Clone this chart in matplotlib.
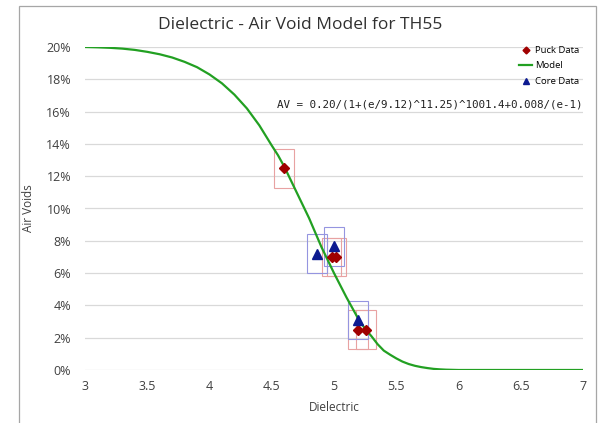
import matplotlib
matplotlib.use('Agg')
import matplotlib.pyplot as plt
from matplotlib.patches import Rectangle
from matplotlib.ticker import FuncFormatter

# model curve
model_e = [3.0, 3.1, 3.2, 3.3, 3.4, 3.5, 3.6, 3.7, 3.8, 3.9, 4.0, 4.1, 4.2, 4.3, 4.4,
           4.5, 4.55, 4.6, 4.65, 4.7, 4.75, 4.8, 4.85, 4.9, 4.95, 5.0, 5.05, 5.1,
           5.15, 5.2, 5.25, 5.3, 5.35, 5.4, 5.45, 5.5, 5.55, 5.6, 5.65, 5.7, 5.75,
           5.8, 5.85, 5.9, 6.0, 6.5, 7.0]
model_av = [0.2000, 0.1998, 0.1995, 0.1990, 0.1982, 0.1970, 0.1955, 0.1935, 0.1908,
            0.1875, 0.1830, 0.1775, 0.1705, 0.1620, 0.1515, 0.1390, 0.1330, 0.1260,
            0.1180, 0.1100, 0.1020, 0.0940, 0.0850, 0.0760, 0.0680, 0.0600, 0.0525,
            0.0450, 0.0380, 0.0310, 0.0255, 0.0210, 0.0160, 0.0120, 0.0095, 0.0072,
            0.0052, 0.0037, 0.0026, 0.0018, 0.0012, 0.0007, 0.0004, 0.0002, 0.0,
            0.0, 0.0]

puck_e = [4.60, 4.98, 5.02, 5.195, 5.255]
puck_av = [0.125, 0.070, 0.070, 0.025, 0.025]

core_e = [4.86, 5.00, 5.19]
core_av = [0.072, 0.0765, 0.031]

# half sizes of the boxes drawn round each point
box_de = 0.08
box_dav = 0.012

fig = plt.figure(figsize=(6, 4.23), dpi=100)
ax = fig.add_axes([85/600, 1-370/423, (583-85)/600, (370-47)/423])

fig.patches.append(Rectangle((19/600, -0.02), (596-19)/600, 0.02+1-6/423,
                             transform=fig.transFigure, fill=False,
                             edgecolor='#a6a6a6', lw=0.9))

for e, av in zip(puck_e, puck_av):
    ax.add_patch(Rectangle((e-box_de, av-box_dav), 2*box_de, 2*box_dav,
                           fill=False, edgecolor='#e8a2a2', lw=0.8, zorder=2))
for e, av in zip(core_e, core_av):
    ax.add_patch(Rectangle((e-box_de, av-box_dav), 2*box_de, 2*box_dav,
                           fill=False, edgecolor='#9595e0', lw=0.8, zorder=2))

ax.plot(puck_e, puck_av, 'D', color='#a00000', ms=5, label='Puck Data', zorder=4)
ax.plot(model_e, model_av, '-', color='#22a022', lw=1.6, label='Model', zorder=3)
ax.plot(core_e, core_av, '^', color='#0c1a90', ms=7, label='Core Data', zorder=4)

ax.set_xlim(3, 7)
ax.set_ylim(0, 0.20)
ax.set_xticks([3, 3.5, 4, 4.5, 5, 5.5, 6, 6.5, 7])
ax.set_xticklabels(['3', '3.5', '4', '4.5', '5', '5.5', '6', '6.5', '7'])
ax.set_yticks([i/100 for i in range(0, 21, 2)])
ax.yaxis.set_major_formatter(FuncFormatter(lambda v, p: '%d%%' % round(v*100)))
ax.grid(True, axis='y', color='#d9d9d9', lw=0.9)
ax.set_axisbelow(True)
for s in ax.spines.values():
    s.set_visible(False)
ax.tick_params(length=0, labelsize=9, colors='#404040', labelfontfamily='Open Sans')
ax.tick_params(axis='y', pad=10)
ax.tick_params(axis='x', pad=7)

ax.set_xlabel('Dielectric', fontsize=8.5, color='#404040', family='Open Sans', labelpad=6)
ax.set_ylabel('Air Voids', fontsize=8.5, color='#404040', family='Open Sans', labelpad=8)
fig.text(0.5, 1-25/423, 'Dielectric - Air Void Model for TH55', ha='center', va='center',
         fontsize=12.5, color='#303030', family='Open Sans')

ax.text(6.995, 0.1615, 'AV = 0.20/(1+(e/9.12)^11.25)^1001.4+0.008/(e-1)', ha='right',
        va='bottom', fontsize=7.8, family='DejaVu Sans Mono', color='#202020')

leg = ax.legend(loc='upper right', bbox_to_anchor=(1.01, 1.03), frameon=False,
                prop={'family': 'Open Sans', 'size': 6.8}, handlelength=1.4,
                handletextpad=0.3, labelspacing=0.7, markerscale=0.7)

fig.savefig('out.png', dpi=100)
